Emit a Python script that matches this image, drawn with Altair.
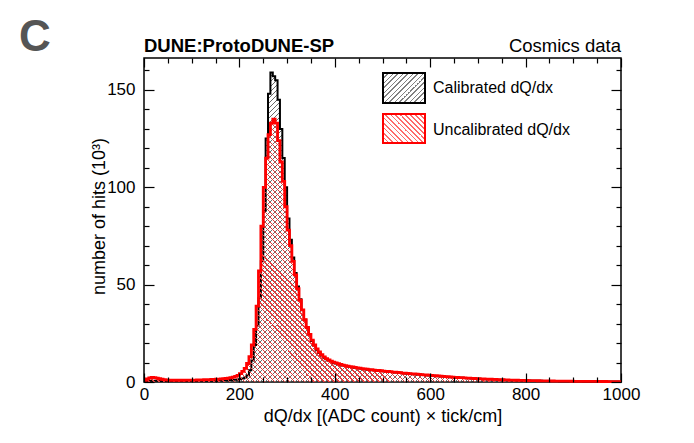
import altair as alt
import pandas as pd

FONT = "Liberation Sans"

# ---------------- data (bin width 5, bin starts 0 ... 995) ----------------
bin_width = 5
unc_000_095 = [0.8, 1.6, 2.1, 2.3, 2.2, 2.0, 1.7, 1.4, 1.2, 1.1,
               1.0, 0.9, 0.9, 0.9, 0.9, 0.9, 0.9, 1.0, 1.0, 1.0]
unc_100_195 = [1.0, 1.0, 1.1, 1.1, 1.1, 1.2, 1.2, 1.2, 1.3, 1.3,
               1.4, 1.5, 1.6, 1.7, 1.8, 2.0, 2.2, 2.5, 2.9, 3.4]
unc_200_295 = [4.3, 5.5, 7.0, 9.5, 13, 19, 27, 39, 57, 80,
               100, 115, 127, 133, 135, 133, 124, 113, 103, 90]
unc_300_395 = [78, 70, 62, 55, 48, 42, 37, 32, 28, 24.5,
               21.5, 19, 17, 15.4, 14.0, 12.9, 12.0, 11.3, 10.7, 10.2]
unc_400_495 = [9.8, 9.4, 9.0, 8.7, 8.4, 8.1, 7.9, 7.7, 7.5, 7.3,
               7.1, 6.9, 6.7, 6.6, 6.4, 6.3, 6.1, 6.0, 5.9, 5.8]
unc_500_595 = [5.6, 5.5, 5.4, 5.3, 5.1, 5.0, 4.9, 4.8, 4.6, 4.5,
               4.4, 4.3, 4.2, 4.1, 4.0, 3.9, 3.8, 3.7, 3.6, 3.5]
unc_600_695 = [3.4, 3.3, 3.2, 3.1, 3.0, 2.9, 2.8, 2.7, 2.6, 2.5,
               2.4, 2.3, 2.25, 2.2, 2.1, 2.0, 1.95, 1.9, 1.8, 1.75]
unc_700_795 = [1.7, 1.6, 1.55, 1.5, 1.45, 1.4, 1.35, 1.3, 1.25, 1.2,
               1.15, 1.1, 1.05, 1.0, 0.97, 0.94, 0.9, 0.87, 0.84, 0.8]
unc_800_895 = [0.77, 0.74, 0.71, 0.68, 0.66, 0.63, 0.61, 0.59, 0.57, 0.55,
               0.53, 0.51, 0.49, 0.47, 0.46, 0.44, 0.43, 0.41, 0.4, 0.39]
unc_900_995 = [0.37, 0.36, 0.35, 0.34, 0.33, 0.32, 0.31, 0.3, 0.29, 0.28,
               0.27, 0.26, 0.25, 0.25, 0.24, 0.23, 0.22, 0.22, 0.21, 0.2]

cal_000_095 = [0.3, 0.5, 0.6, 0.7, 0.7, 0.6, 0.6, 0.5, 0.5, 0.5,
               0.5, 0.5, 0.5, 0.5, 0.5, 0.5, 0.5, 0.5, 0.5, 0.5]
cal_100_195 = [0.5, 0.5, 0.5, 0.6, 0.6, 0.6, 0.6, 0.7, 0.7, 0.7,
               0.7, 0.8, 0.8, 0.9, 0.9, 1.0, 1.0, 1.1, 1.2, 1.3]
cal_200_295 = [1.5, 1.8, 2.3, 3.5, 6, 11, 19, 29, 43, 62,
               88, 125, 148, 159, 157, 155, 145, 130, 115, 100]
cal_300_395 = [84, 73, 64, 56, 49, 42.5, 37, 32, 28, 24.5,
               21.0, 18.6, 16.6, 15.0, 13.7, 12.6, 11.7, 11.0, 10.4, 9.9]
cal_400_495 = [9.5, 9.1, 8.8, 8.5, 8.2, 7.9, 7.7, 7.5, 7.3, 7.1,
               6.9, 6.7, 6.6, 6.4, 6.3, 6.1, 6.0, 5.9, 5.8, 5.6]
cal_500_595 = [5.5, 5.4, 5.3, 5.2, 5.0, 4.9, 4.8, 4.7, 4.5, 4.4,
               4.3, 4.2, 4.1, 4.0, 3.9, 3.8, 3.7, 3.6, 3.5, 3.4]
cal_600_695 = [3.3, 3.2, 3.1, 3.0, 2.9, 2.8, 2.7, 2.6, 2.5, 2.45,
               2.35, 2.25, 2.2, 2.15, 2.05, 1.95, 1.9, 1.85, 1.75, 1.7]
cal_700_795 = [1.65, 1.55, 1.5, 1.45, 1.4, 1.35, 1.3, 1.25, 1.2, 1.15,
               1.1, 1.05, 1.0, 0.97, 0.94, 0.91, 0.88, 0.85, 0.82, 0.78]
cal_800_895 = [0.75, 0.72, 0.69, 0.66, 0.64, 0.61, 0.59, 0.57, 0.55, 0.53,
               0.51, 0.49, 0.47, 0.46, 0.44, 0.43, 0.41, 0.4, 0.38, 0.37]
cal_900_995 = [0.36, 0.35, 0.34, 0.33, 0.32, 0.31, 0.3, 0.29, 0.28, 0.27,
               0.26, 0.25, 0.24, 0.24, 0.23, 0.22, 0.21, 0.21, 0.2, 0.19]

x_major = [0, 200, 400, 600, 800, 1000]
x_minor = [50, 100, 150, 250, 300, 350, 450, 500, 550, 650, 700, 750, 850, 900, 950]
y_major = [0, 50, 100, 150]
y_minor = [10, 20, 30, 40, 60, 70, 80, 90, 110, 120, 130, 140, 160]

unc = (unc_000_095 + unc_100_195 + unc_200_295 + unc_300_395 + unc_400_495 +
       unc_500_595 + unc_600_695 + unc_700_795 + unc_800_895 + unc_900_995)
cal = (cal_000_095 + cal_100_195 + cal_200_295 + cal_300_395 + cal_400_495 +
       cal_500_595 + cal_600_695 + cal_700_795 + cal_800_895 + cal_900_995)

edges = [i * bin_width for i in range(len(unc) + 1)]
df = pd.DataFrame({"x": edges, "cal": cal + [cal[-1]], "unc": unc + [unc[-1]]})

# ---------------- layout ----------------
W, H = 477, 324
YMAX = 166.4
xscale = alt.Scale(domain=[0, 1000], nice=False, zero=False)
yscale = alt.Scale(domain=[0, YMAX], nice=False)


def hatch(w, h, spacing, color, direction, frac=0.3):
    """Striped fill built from a linear gradient (45 degree lines)."""
    s = (w + h) / (w * w + h * h)
    n = (w + h) / spacing
    clear = "rgba(255,255,255,0)"
    stops = []
    k = 0
    while k < n:
        a = round(k / n, 6)
        b = round(min((k + frac) / n, 1.0), 6)
        c = round(min((k + 1) / n, 1.0), 6)
        stops += [{"offset": a, "color": color}, {"offset": b, "color": color},
                  {"offset": b, "color": clear}, {"offset": c, "color": clear}]
        k += 1
    if direction == "up":
        xy = dict(x1=0, y1=0, x2=s * w, y2=s * h)
    else:
        xy = dict(x1=0, y1=1, x2=s * w, y2=1 - s * h)
    return dict(gradient="linear", stops=stops, **xy)


def tick_axis(orient, offset, values, size):
    return alt.Axis(orient=orient, offset=offset, values=values, labels=False,
                    domain=False, ticks=True, tickSize=size, tickColor="black",
                    tickWidth=1.2, grid=False, title="", zindex=2)


x_main = alt.Axis(orient="bottom", values=x_major, format="d", ticks=False,
                  domain=False, grid=False, labelFont=FONT, labelFontSize=17,
                  labelColor="black", labelPadding=4, labelFlush=False,
                  labelOverlap=False,
                  title="dQ/dx [(ADC count) \u00d7 tick/cm]", titleFont=FONT,
                  titleFontSize=18, titleFontWeight="normal", titleColor="black",
                  titleX=W / 2, titleY=34, titleAlign="center",
                  titleBaseline="middle", zindex=0)
y_main = alt.Axis(orient="left", values=y_major, format="d", ticks=False,
                  domain=False, grid=False, labelFont=FONT, labelFontSize=17,
                  labelColor="black", labelPadding=9, labelFlush=False,
                  labelOverlap=False,
                  title="number of hits (10\u00b3)", titleFont=FONT,
                  titleFontSize=18, titleFontWeight="normal", titleColor="black",
                  titleX=-45, titleY=158, titleAngle=270, titleAlign="center",
                  titleBaseline="middle", zindex=0)

cal_max_px = max(cal) / YMAX * H
unc_max_px = max(unc) / YMAX * H

base = alt.Chart(df)

black_area = base.mark_area(
    interpolate="step-after", fill=hatch(W, cal_max_px, 5, "#6a6a6a", "up", 0.25),
    strokeWidth=0
).encode(x=alt.X("x:Q", scale=xscale, axis=x_main),
         y=alt.Y("cal:Q", scale=yscale, axis=y_main))

black_line = base.mark_line(
    interpolate="step-after", color="black", strokeWidth=2
).encode(x=alt.X("x:Q", scale=xscale, axis=tick_axis("top", -H, x_major, 9)),
         y=alt.Y("cal:Q", scale=yscale, axis=tick_axis("right", -W, y_major, 10)))

red_area = base.mark_area(
    interpolate="step-after", fill=hatch(W, unc_max_px, 5, "#e63c3c", "down", 0.36),
    strokeWidth=0
).encode(x=alt.X("x:Q", scale=xscale, axis=tick_axis("top", -H, x_minor, 5)),
         y=alt.Y("unc:Q", scale=yscale, axis=tick_axis("right", -W, y_minor, 5)))

red_line = base.mark_line(
    interpolate="step-after", color="#ff0000", strokeWidth=2.8
).encode(x=alt.X("x:Q", scale=xscale, axis=tick_axis("bottom", -H, x_major, 9)),
         y=alt.Y("unc:Q", scale=yscale, axis=tick_axis("left", -W, y_major, 10)))

ghost = base.mark_line(strokeOpacity=0).encode(
    x=alt.X("x:Q", scale=xscale, axis=tick_axis("bottom", -H, x_minor, 5)),
    y=alt.Y("unc:Q", scale=yscale, axis=tick_axis("left", -W, y_minor, 5)))

one = alt.Chart(pd.DataFrame({"k": [0]}))

leg_black = one.mark_rect(
    fill=hatch(42, 30, 5, "#808080", "up", 0.25), stroke="black", strokeWidth=2
).encode(x=alt.value(239), x2=alt.value(281), y=alt.value(15), y2=alt.value(45))
leg_red = one.mark_rect(
    fill=hatch(42, 29, 5, "#ff6a6a", "down", 0.25), stroke="#ff0000", strokeWidth=2
).encode(x=alt.value(239), x2=alt.value(281), y=alt.value(56), y2=alt.value(85))


def label(txt, x, y, size, align="left", weight="normal", color="black",
          baseline="middle"):
    return one.mark_text(font=FONT, fontSize=size, align=align,
                         baseline=baseline, fontWeight=weight, color=color
                         ).encode(x=alt.value(x), y=alt.value(y),
                                  text=alt.value(txt))


texts = [
    label("Calibrated dQ/dx", 289, 30, 16),
    label("Uncalibrated dQ/dx", 289, 72, 16),
    label("DUNE:ProtoDUNE-SP", 0, -6, 18.5, weight="bold",
          baseline="alphabetic"),
    label("Cosmics data", W, -6, 18.5, align="right", baseline="alphabetic"),
    label("C", -109, -20, 44, align="center", weight="bold", color="#555555"),
]

chart = alt.layer(
    black_area, black_line, red_area, red_line, ghost, leg_black, leg_red,
    *texts
).resolve_scale(x="shared", y="shared").resolve_axis(
    x="independent", y="independent"
).properties(
    width=W, height=H,
    autosize=alt.AutoSizeParams(type="none"),
    padding={"left": 144, "top": 58, "right": 73, "bottom": 61},
    background="white",
).configure_view(stroke="black", strokeWidth=1.5)

chart.save("out.html", embed_options={"renderer": "svg", "actions": False})
